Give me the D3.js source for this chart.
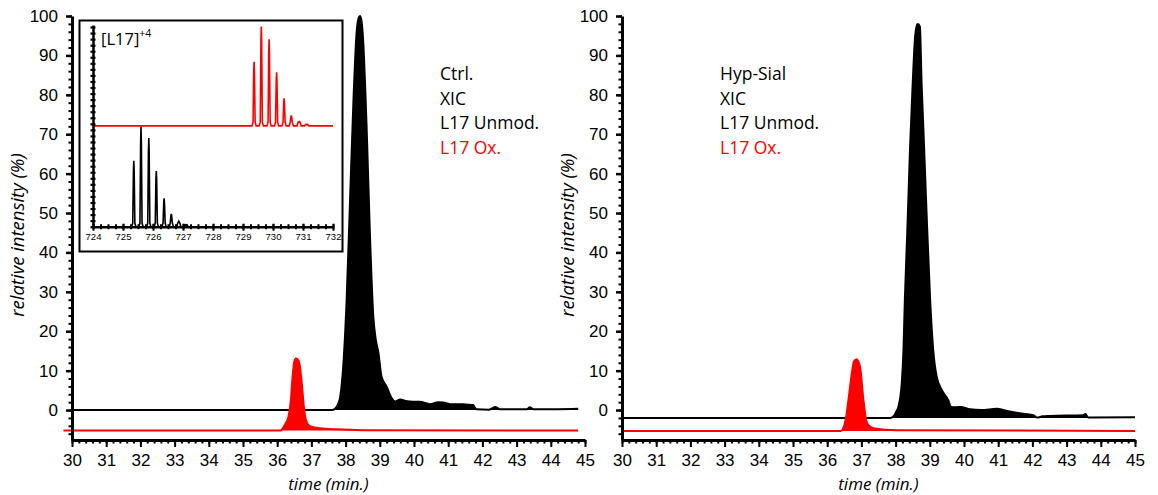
<!DOCTYPE html>
<html><head><meta charset="utf-8">
<script src="https://cdn.jsdelivr.net/npm/d3@7"></script>
<style>body{margin:0;background:#fff}</style>
</head><body><svg id="c" width="1158" height="495"></svg>
<script>
// ---------- data ----------
const xTickValues = [30,31,32,33,34,35,36,37,38,39,40,41,42,43,44,45];
const yTickValues = [0,10,20,30,40,50,60,70,80,90,100];
const insetXTickValues = [724,725,726,727,728,729,730,731,732];

// Ctrl. XIC, L17 Unmod. (time, relative intensity)
const ctrlUnmodT = [30,37.6,37.69,37.78,37.84,37.93,38.03,38.13,38.23,38.32,38.38,38.42,38.46,38.5,38.62,38.71,38.81,38.88,38.96,39.05,39.2,39.35,39.45,39.6,39.75,39.98,40.17,40.47,40.71,40.86,41.05,41.3,41.5,41.73,41.78,41.83,42.2,42.3,42.37,42.45,42.51,43.3,43.39,43.45,43.49,44.2,44.8];
const ctrlUnmodV = [0,0,0.3,1.5,3.3,11,27.9,53.3,78.7,95.6,99.5,100,99,95.6,70.3,44.9,23.7,18,14.5,8.5,5.9,3,2.2,2.7,2.3,2.1,2.1,1.5,2.0,1.9,1.5,1.5,1.4,1.3,0.6,0.2,0.1,0.5,0.8,0.5,0.2,0.2,0.7,0.4,0.2,0.2,0.3];
// Ctrl. XIC, L17 Ox.
const ctrlOxT = [29.75,36.1,36.18,36.27,36.33,36.4,36.45,36.5,36.55,36.6,36.65,36.72,36.78,36.84,36.96,37.25,37.74,38.5,44.8];
const ctrlOxV = [-5.2,-5.2,-4.4,-3,-1.7,2.5,8.5,12.3,13.1,12.9,11.8,6.8,0.8,-2.5,-4.1,-4.6,-4.9,-5.1,-5.2];
// Hyp-Sial XIC, L17 Unmod.
const hypUnmodT = [30,37.85,37.95,38.03,38.08,38.18,38.23,38.27,38.34,38.42,38.5,38.57,38.63,38.65,38.71,38.76,38.81,38.91,39.01,39.1,39.2,39.35,39.54,39.62,39.74,39.9,40.18,40.5,40.96,41.2,41.54,42.03,42.13,42.3,42.51,43.49,43.55,43.63,45.0];
const hypUnmodV = [-2,-2,-1.5,-0.2,0.8,6.8,15.2,27.9,44.8,66,82.9,94.7,97.8,98,97.3,82.9,71.9,49,27.9,15.2,8.5,5.1,2.5,0.8,0.7,0.8,0.2,0,0.3,-0.1,-0.7,-1.3,-1.9,-1.6,-1.5,-1.3,-1.0,-1.9,-1.8];
// Hyp-Sial XIC, L17 Ox.
const hypOxT = [30,36.4,36.47,36.55,36.62,36.72,36.78,36.86,36.96,37.06,37.15,37.25,37.35,38.03,45.0];
const hypOxV = [-5.3,-5.3,-4.6,-2,2.5,9.3,12.3,12.9,11,2.5,-3,-4.2,-4.6,-5.1,-5.3];
const baselineCtrlUnmod = 0, baselineCtrlOx = -5.2, baselineHypUnmod = -2, baselineHypOx = -5.3;

// inset mass spectrum [L17]+4 (m/z, height)
const insetUnmodMz = [725.36,725.6,725.86,726.11,726.37,726.61,726.86,727.1];
const insetUnmodI  = [32.7,49.6,44,27.6,14.1,6.4,2.7,1.0];
const insetOxMz = [729.37,729.61,729.87,730.12,730.37,730.61,730.87,731.12];
const insetOxI  = [31.8,49.2,42.9,26.5,13.7,5.2,2.0,0.7];
const insetOxOffset = 50;

const legendCtrl = ["Ctrl.","XIC","L17 Unmod.","L17 Ox."];
const legendHyp  = ["Hyp-Sial","XIC","L17 Unmod.","L17 Ox."];

// ---------- drawing ----------
const svg = d3.select("#c");
const RED = "#ff0000";
const TICKFONT = "'Liberation Sans', Arial, sans-serif";
const TEXTFONT = "'Open Sans', sans-serif";

function zip(t, v){ return t.map((d,i)=>[d, v[i]]); }

function panel(left, right, series, legend, legendX, yTitleX){
  const x = d3.scaleLinear([30,45],[left,right]);
  const y = d3.scaleLinear([-7.6,100],[440,16]);
  const g = svg.append("g");

  series.forEach(s=>{
    const pts = zip(s.t, s.v);
    g.append("path").datum(pts)
      .attr("d", d3.area().curve(d3.curveMonotoneX).x(d=>x(d[0])).y0(y(s.base)).y1(d=>y(d[1])))
      .attr("fill", s.color).attr("stroke","none");
    g.append("path").datum(pts)
      .attr("d", d3.line().curve(d3.curveMonotoneX).x(d=>x(d[0])).y(d=>y(d[1])))
      .attr("fill","none").attr("stroke", s.color).attr("stroke-width",2);
  });

  // x axis
  const xMinor = d3.range(30, 45.0001, 0.2).map(d=>+d.toFixed(1));
  const gxm = g.append("g").attr("transform",`translate(0,${y(-7.6)})`)
    .call(d3.axisBottom(x).tickValues(xMinor).tickSize(3.5).tickSizeOuter(0).tickFormat(""));
  gxm.select(".domain").remove();
  gxm.selectAll("line").attr("stroke-width",2);
  const gx = g.append("g").attr("transform",`translate(0,${y(-7.6)})`)
    .call(d3.axisBottom(x).tickValues(xTickValues).tickSize(7).tickSizeOuter(0).tickPadding(7).tickFormat(d3.format("d")));
  gx.select(".domain").attr("stroke-width",3);
  gx.selectAll("line").attr("stroke-width",2);
  gx.selectAll("text").attr("font-family",TICKFONT).attr("font-size",17).attr("fill","#000");

  // y axis
  const yMinor = d3.range(-6, 100.001, 2);
  const gym = g.append("g").attr("transform",`translate(${left},0)`)
    .call(d3.axisLeft(y).tickValues(yMinor).tickSize(3.5).tickSizeOuter(0).tickFormat(""));
  gym.select(".domain").remove();
  gym.selectAll("line").attr("stroke-width",2);
  const gy = g.append("g").attr("transform",`translate(${left},0)`)
    .call(d3.axisLeft(y).tickValues(yTickValues).tickSize(6).tickSizeOuter(0).tickPadding(8).tickFormat(d3.format("d")));
  gy.select(".domain").attr("stroke-width",3);
  gy.selectAll("line").attr("stroke-width",2.5);
  gy.selectAll("text").attr("font-family",TICKFONT).attr("font-size",17).attr("fill","#000");

  // titles
  g.append("text").attr("x",(left+right)/2).attr("y",490)
    .attr("text-anchor","middle").attr("font-family",TEXTFONT).attr("font-style","italic")
    .attr("font-size",17).text("time (min.)");
  g.append("text").attr("transform",`translate(${yTitleX},235) rotate(-90)`)
    .attr("text-anchor","middle").attr("font-family",TEXTFONT).attr("font-style","italic")
    .attr("font-size",18.5).text("relative intensity (%)");

  // legend
  legend.forEach((txt,i)=>{
    g.append("text").attr("x",legendX).attr("y",80+i*24.7)
      .attr("font-family",TEXTFONT).attr("font-size",17.5)
      .attr("fill", i===3 ? RED : "#000").text(txt);
  });
}

panel(72, 585, [
  {t:ctrlUnmodT, v:ctrlUnmodV, base:baselineCtrlUnmod, color:"#000"},
  {t:ctrlOxT, v:ctrlOxV, base:baselineCtrlOx, color:RED}
], legendCtrl, 440, 24);

panel(622, 1135, [
  {t:hypUnmodT, v:hypUnmodV, base:baselineHypUnmod, color:"#000"},
  {t:hypOxT, v:hypOxV, base:baselineHypOx, color:RED}
], legendHyp, 720, 574);

// ---------- inset ----------
const ig = svg.append("g");
ig.append("rect").attr("x",79.5).attr("y",20.5).attr("width",263).attr("height",231)
  .attr("fill","#fff").attr("stroke","#000").attr("stroke-width",2);
const ix = d3.scaleLinear([724,732],[93,333]);
const iy = d3.scaleLinear([0,100],[226.7,25]);

function spectrum(mz, inten, base){
  const pts = [[724, base]];
  mz.forEach((m,i)=>{
    const h = inten[i];
    pts.push([m-0.07,base],[m-0.035,base+Math.min(1.8,h)],[m-0.012,base+h*0.85],[m,base+h],[m+0.012,base+h*0.85],[m+0.035,base+Math.min(1.8,h)],[m+0.07,base]);
  });
  pts.push([732, base]);
  return pts;
}
ig.append("path").datum(spectrum(insetOxMz, insetOxI, insetOxOffset))
  .attr("d", d3.line().x(d=>ix(d[0])).y(d=>iy(d[1])))
  .attr("fill","none").attr("stroke",RED).attr("stroke-width",1.6);
ig.append("path").datum(spectrum(insetUnmodMz, insetUnmodI, 0))
  .attr("d", d3.line().x(d=>ix(d[0])).y(d=>iy(d[1])))
  .attr("fill","none").attr("stroke","#000").attr("stroke-width",1.6);

// inset axes
const ixMinor = d3.range(724, 732.001, 0.25);
const gixm = ig.append("g").attr("transform",`translate(0,${iy(0)})`)
  .call(d3.axisBottom(ix).tickValues(ixMinor).tickSize(2.5).tickSizeOuter(0).tickFormat(""));
gixm.select(".domain").remove();
gixm.selectAll("line").attr("y1",-2.5).attr("stroke-width",2);
const gix = ig.append("g").attr("transform",`translate(0,${iy(0)})`)
  .call(d3.axisBottom(ix).tickValues(insetXTickValues).tickSize(4).tickSizeOuter(0).tickPadding(3).tickFormat(d3.format("d")));
gix.select(".domain").attr("stroke-width",2.5);
gix.selectAll("line").attr("y1",-3).attr("stroke-width",2);
gix.selectAll("text").attr("font-family",TICKFONT).attr("font-size",9.5).attr("fill","#000");

const iyMinor = d3.range(0, 100.001, 3);
const giy = ig.append("g").attr("transform",`translate(${ix(724)},0)`)
  .call(d3.axisLeft(iy).tickValues(iyMinor).tickSize(2.5).tickSizeOuter(0).tickFormat(""));
giy.select(".domain").attr("stroke-width",2.5);
giy.selectAll("line").attr("x1",2.5).attr("stroke-width",2.2);

const lab = ig.append("text").attr("x",101).attr("y",45)
  .attr("font-family",TEXTFONT).attr("font-size",16.5).attr("fill","#000");
lab.append("tspan").text("[L17]");
lab.append("tspan").attr("font-size",10.5).attr("dy",-8).text("+4");
</script>
</body></html>
